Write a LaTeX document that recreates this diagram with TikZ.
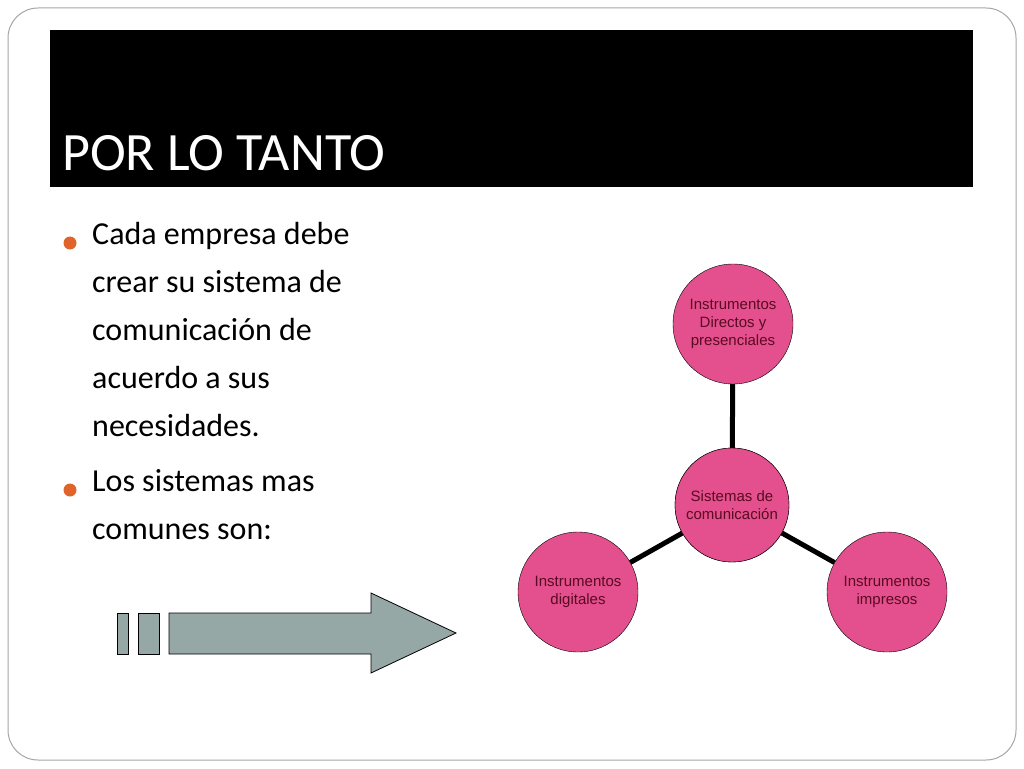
\documentclass[tikz,border=0pt]{standalone}
\usepackage{fontspec}
\setmainfont{Carlito}
\newfontfamily\arial{Liberation Sans}
\begin{document}
\begin{tikzpicture}[x=1pt,y=-1pt,
  circ/.style={circle,draw=black,fill=pinkc,minimum size=120pt,inner sep=0pt,align=center,font=\arial\fontsize{15}{18}\selectfont,text=textc},
  link/.style={line width=5pt},
  gbox/.style={draw=black,fill=grayc,line width=0.8pt}]
\definecolor{pinkc}{HTML}{E3508D}
\definecolor{textc}{HTML}{5A0A22}
\definecolor{grayc}{HTML}{95A8A6}
\definecolor{orangec}{HTML}{E0642A}
\useasboundingbox (0,0) rectangle (1024,768);
\fill[white] (0,0) rectangle (1024,768);
\draw[gray!70,line width=1pt,rounded corners=30pt] (8,8) rectangle (1016,760);
\fill[black] (50,30) rectangle (973,187);
\node[anchor=base west,text=white,font=\fontsize{54}{60}\selectfont,inner sep=0] (title) at (62,170) {POR LO TANTO};
\fill[orangec] (70,243) circle (6.5pt);
\fill[orangec] (70,490) circle (6.5pt);
\node[anchor=north west,align=left,inner sep=0,font=\fontsize{32}{48}\selectfont] (b1) at (92,222)
 {Cada empresa debe\\crear su sistema de\\comunicación de\\acuerdo a sus\\necesidades.};
\node[anchor=north west,align=left,inner sep=0,font=\fontsize{32}{48}\selectfont] (b2) at (92,469)
 {Los sistemas mas\\comunes son:};
\node[circ,minimum size=114pt] (c) at (732,505) {Sistemas de\\comunicación};
\node[circ] (t) at (733,324) {Instrumentos\\Directos y\\presenciales};
\node[circ] (l) at (578,592) {Instrumentos\\digitales};
\node[circ] (r) at (887,592) {Instrumentos\\impresos};
\begin{scope}[on background layer/.style={}]
\end{scope}
\draw[link] (c) -- (t);
\draw[link] (c) -- (l);
\draw[link] (c) -- (r);
\node[circ,minimum size=114pt] at (732,505) {Sistemas de\\comunicación};
\draw[gbox] (117,613) rectangle (128,654);
\draw[gbox] (138,613) rectangle (159,654);
\draw[gbox] (169,613) -- (371,613) -- (371,593) -- (456,633) -- (371,673) -- (371,654) -- (169,654) -- cycle;
\end{tikzpicture}
\end{document}
